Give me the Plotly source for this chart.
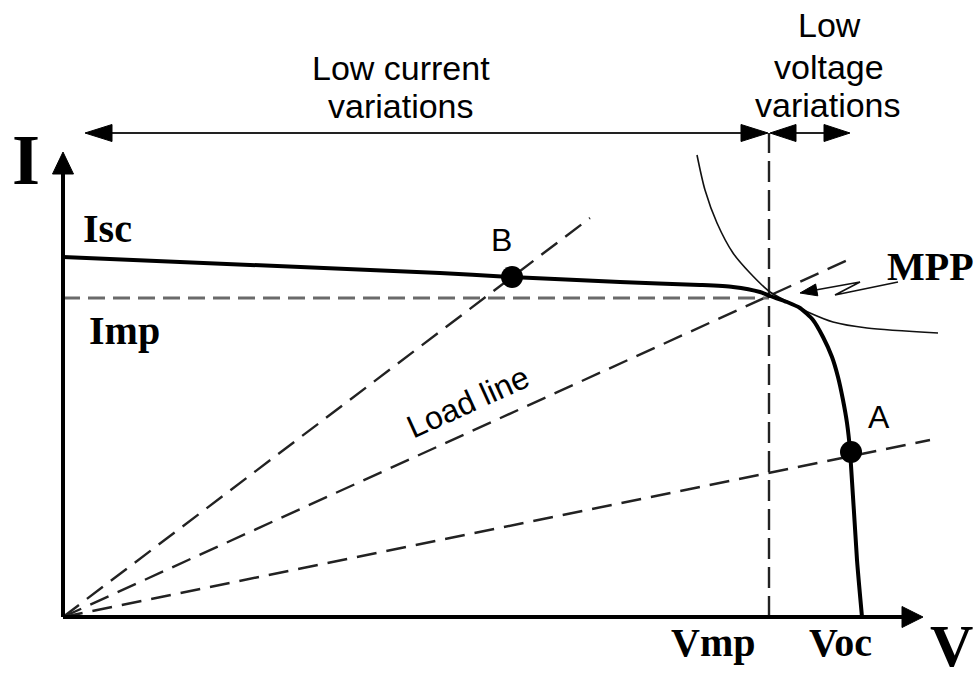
import math
import plotly.graph_objects as go

# ---- Diagram data (units: V to the right, I upward; origin at the axes corner) ----
iv_v = [0, 377, 448, 557, 637, 670, 697, 707, 724, 737, 750, 760, 769, 775, 780, 784, 787, 794, 799]
iv_i = [360, 344, 340, 335, 332, 330, 325, 321, 315, 309, 297, 280, 260, 240, 217, 194, 167, 57, 0]

power_v = [634, 642, 654, 670, 687, 707, 727, 747, 770, 804, 875]
power_i = [462, 427, 394, 364, 344, 325, 314, 304, 295, 289, 284]

load_end_v = [527, 787, 867]
load_end_i = [399, 358, 177]

vmp, voc, imp, isc = 706, 799, 319, 360
point_names = ["A", "B"]
point_v = [788, 449]
point_i = [165, 340]

axis_v_tip = 860
axis_i_tip = 465
span_level = 484
span_left = [22, 705]
span_right = [707, 787]

mpp_pointer_v = [835, 772, 797, 737]
mpp_pointer_i = [335, 322, 335, 324]

SERIF = "Liberation Serif, Times New Roman, serif"
SANS = "Liberation Sans, Arial, sans-serif"

fig = go.Figure()


def head_path(tip, frm, length, half):
    dx, dy = tip[0] - frm[0], tip[1] - frm[1]
    d = math.hypot(dx, dy)
    ux, uy = dx / d, dy / d
    bx, by = tip[0] - ux * length, tip[1] - uy * length
    px, py = -uy, ux
    p1 = (bx + px * half, by + py * half)
    p2 = (bx - px * half, by - py * half)
    return f"M{tip[0]},{tip[1]} L{p1[0]},{p1[1]} L{p2[0]},{p2[1]} Z"


shapes = []


def add_head(tip, frm, length, half, color="black"):
    shapes.append(dict(type="path", path=head_path(tip, frm, length, half), xref="x", yref="y",
                       fillcolor=color, line=dict(color=color, width=1)))


def line(xs, ys, width, color="black", dash="solid", shape="linear", smoothing=None):
    ln = dict(width=width, color=color, dash=dash, shape=shape)
    if smoothing is not None:
        ln["smoothing"] = smoothing
    fig.add_trace(go.Scatter(x=xs, y=ys, mode="lines", line=ln, hoverinfo="skip", showlegend=False))


# load lines (dashed from origin)
for ev, ei in zip(load_end_v, load_end_i):
    line([0, ev], [0, ei], 2.4, "#222222", dash="20px,10px")

# Imp horizontal dashed
line([0, vmp], [imp, imp], 2.8, "#6a6a6a", dash="17px,8px")
# Vmp vertical dashed
line([vmp, vmp], [0, span_level], 2.4, "#222222", dash="21px,8px")

# constant power curve
line(power_v, power_i, 1.6, "#111111", shape="spline", smoothing=0.8)

# IV curve
line(iv_v, iv_i, 4, "black", shape="spline", smoothing=0.6)

# axes
line([0, 0], [0, axis_i_tip - 18], 4, "black")
line([0, axis_v_tip - 18], [0, 0], 4, "black")
add_head((0, axis_i_tip), (0, 0), 22, 10.5)
add_head((axis_v_tip, 0), (0, 0), 21, 10.5)

# top span arrows
line([span_left[0] + 20, span_left[1] - 20], [span_level, span_level], 2, "#222222")
add_head((span_left[0], span_level), (span_left[1], span_level), 27, 8.5)
add_head((span_left[1], span_level), (span_left[0], span_level), 27, 8.5)
line([span_right[0] + 20, span_right[1] - 20], [span_level, span_level], 2, "#222222")
add_head((span_right[0], span_level), (span_right[1], span_level), 26, 8.5)
add_head((span_right[1], span_level), (span_right[0], span_level), 26, 8.5)

# MPP pointer (zigzag)
line(mpp_pointer_v[:-1] + [mpp_pointer_v[-1] + 10], mpp_pointer_i[:-1] + [mpp_pointer_i[-1] + 2], 1.6, "#111111")
add_head((mpp_pointer_v[-1], mpp_pointer_i[-1]), (mpp_pointer_v[-2], mpp_pointer_i[-2]), 17, 6)

# operating points
fig.add_trace(go.Scatter(x=point_v, y=point_i, mode="markers",
                         marker=dict(size=22, color="black"), hoverinfo="skip", showlegend=False))

annotations = []


def text(t, x, y, size, font, bold=False, angle=0, yanchor="middle"):
    annotations.append(dict(text=(f"<b>{t}</b>" if bold else t), x=x, y=y, xref="x", yref="y",
                            showarrow=False, textangle=angle, xanchor="center", yanchor=yanchor,
                            font=dict(family=font, size=size, color="black")))


text("I", -37, 457, 72, SERIF, bold=True)
text("V", 888, -64, 60, SERIF, bold=True, yanchor="bottom")
text("Isc", 44, 389, 40, SERIF, bold=True)
text("Imp", 61, 287, 40, SERIF, bold=True)
text("Vmp", 650, -25, 40, SERIF, bold=True)
text("Voc", 777, -25, 40, SERIF, bold=True)
text("MPP", 867, 351, 40, SERIF, bold=True)
for n, pv, pi in zip(point_names, point_v, point_i):
    if n == "A":
        text(n, pv + 28, pi + 35, 32, SANS)
    else:
        text(n, pv - 11, pi + 37, 32, SANS)
text("Load line", 405, 215, 32, SANS, angle=-24.4)
text("Low current", 338, 549, 34, SANS)
text("variations", 338, 511, 34, SANS)
text("Low", 766, 592, 34, SANS)
text("voltage", 766, 550, 34, SANS)
text("variations", 765, 512, 34, SANS)

fig.update_layout(
    width=978, height=682,
    margin=dict(l=0, r=0, t=0, b=0),
    paper_bgcolor="white", plot_bgcolor="white",
    xaxis=dict(range=[-63, 915], visible=False, fixedrange=True),
    yaxis=dict(range=[-65, 617], visible=False, fixedrange=True),
    shapes=shapes, annotations=annotations, showlegend=False,
)

fig.write_html("out.html", config={"displayModeBar": False},
               post_script="document.body.style.margin='0';document.body.style.overflow='hidden';")
